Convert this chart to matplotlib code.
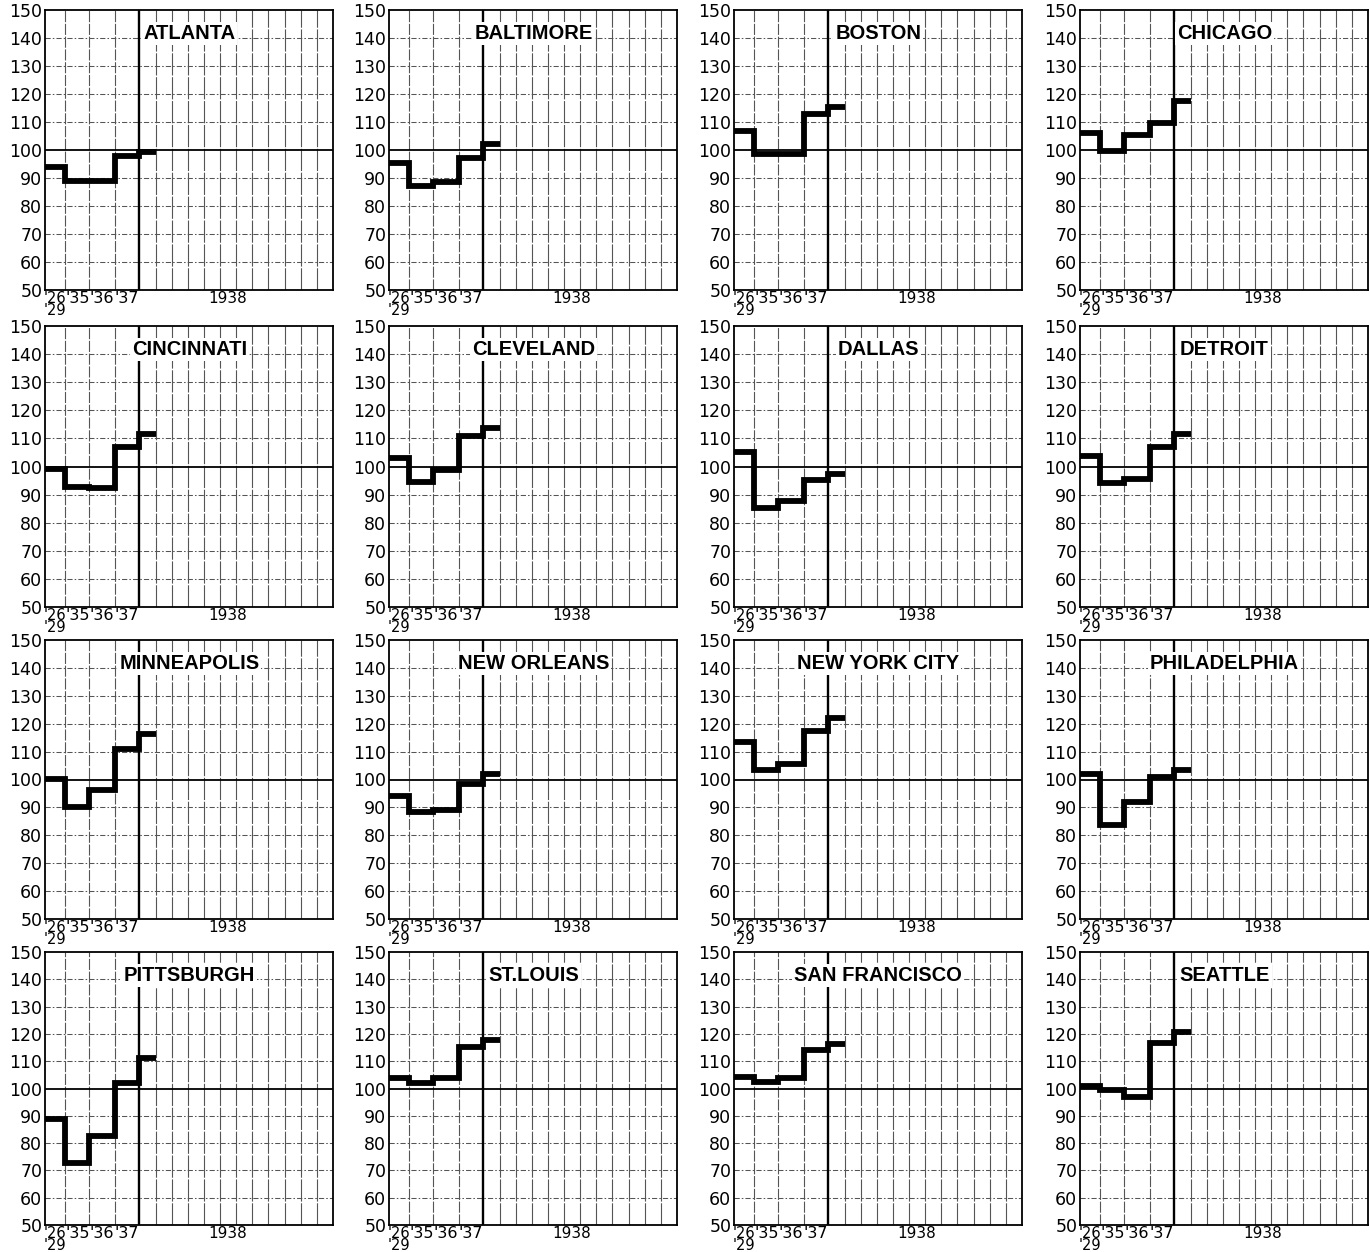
import matplotlib
matplotlib.use("Agg")
import matplotlib.pyplot as plt

# ---------------- data ----------------
cities = ["ATLANTA", "BALTIMORE", "BOSTON", "CHICAGO",
          "CINCINNATI", "CLEVELAND", "DALLAS", "DETROIT",
          "MINNEAPOLIS", "NEW ORLEANS", "NEW YORK CITY", "PHILADELPHIA",
          "PITTSBURGH", "ST.LOUIS", "SAN FRANCISCO", "SEATTLE"]

# periods: '26-'29 avg, 1935, 1936, 1937, Jan 1938
atlanta       = [94.1, 88.8, 88.8, 98.0, 99.4]
baltimore     = [95.3, 87.2, 88.6, 97.3, 102.3]
boston        = [106.8, 98.6, 98.6, 113.0, 115.3]
chicago       = [105.9, 99.8, 105.4, 109.5, 117.6]
cincinnati    = [99.2, 92.6, 92.3, 107.0, 111.6]
cleveland     = [103.1, 94.6, 98.6, 110.9, 113.8]
dallas        = [105.3, 85.2, 87.7, 95.2, 97.5]
detroit       = [103.6, 94.0, 95.7, 106.8, 111.7]
minneapolis   = [100.3, 90.0, 96.2, 111.1, 116.4]
new_orleans   = [94.2, 88.5, 88.9, 98.3, 101.9]
new_york_city = [113.4, 103.4, 105.5, 117.4, 121.9]
philadelphia  = [102.1, 83.6, 91.9, 100.8, 103.4]
pittsburgh    = [89.0, 72.6, 82.7, 102.0, 111.0]
st_louis      = [103.7, 102.0, 103.9, 115.3, 117.7]
san_francisco = [104.3, 102.3, 103.8, 114.0, 116.2]
seattle       = [101.0, 99.4, 97.0, 116.6, 120.7]

series = [atlanta, baltimore, boston, chicago,
          cincinnati, cleveland, dallas, detroit,
          minneapolis, new_orleans, new_york_city, philadelphia,
          pittsburgh, st_louis, san_francisco, seattle]

period_labels = ["'26\n'29", "'35", "'36", "'37"]
year_label = "1938"
y_ticks = [50, 60, 70, 80, 90, 100, 110, 120, 130, 140, 150]

# ---------------- layout / style ----------------
W, H = 1370, 1252
edges = [-5.85, -4.6, -3.1, -1.52, 0.0, 1.0]   # period boundaries (month units)
XMIN, XMAX = -5.85, 12.0
col_left = [45, 389, 734, 1080]
ax_w = 288
row_top = [10, 326, 640, 952]
row_bot = [290, 607, 919, 1225]

fig = plt.figure(figsize=(W / 100, H / 100), dpi=100)
fig.patch.set_facecolor("white")

grid_c = "#555555"

for i, (name, vals) in enumerate(zip(cities, series)):
    r, c = divmod(i, 4)
    left = col_left[c] / W
    bottom = 1 - row_bot[r] / H
    height = (row_bot[r] - row_top[r]) / H
    ax = fig.add_axes([left, bottom, ax_w / W, height])
    ax.set_xlim(XMIN, XMAX)
    ax.set_ylim(50, 150)

    # horizontal grid
    for yv in y_ticks[1:-1]:
        if yv == 100:
            ax.axhline(yv, color="black", lw=1.3, zorder=2)
        else:
            ax.axhline(yv, color=grid_c, lw=0.75,
                       ls=(0, (5, 2, 1.5, 2)), zorder=1)
    # vertical grid
    for xv in edges[1:4]:
        ax.axvline(xv, color=grid_c, lw=0.8, ls=(0, (10, 1.5)), zorder=1)
    for m in range(1, 12):
        ax.axvline(m, color=grid_c, lw=0.8, ls=(0, (20, 1.5)), zorder=1)
    ax.axvline(0, color="black", lw=1.7, zorder=2)

    # data step line
    ax.stairs(vals, edges, baseline=None, color="black", lw=4.2,
              zorder=4, joinstyle="miter")

    # title
    ax.text(3.1, 141.5, name, ha="center", va="center",
            fontsize=14.5, fontweight="bold",
            family=["Liberation Sans", "DejaVu Sans"],
            color="black", zorder=5,
            bbox=dict(facecolor="white", edgecolor="none", pad=1.5))

    # ticks
    ax.set_yticks(y_ticks)
    ax.set_yticklabels([str(v) for v in y_ticks],
                       family=["DejaVu Sans"], size=12.5)
    centers = [(edges[k] + edges[k + 1]) / 2 for k in range(4)] + [5.5]
    ax.set_xticks(centers)
    ax.set_xticklabels(period_labels + [year_label],
                       family=["DejaVu Sans"], size=11.5, linespacing=0.68)
    xt = ax.get_xticklabels()
    xt[0].set_fontsize(10.5)
    xt[-1].set_fontsize(11)
    ax.tick_params(axis="both", length=0, pad=2)
    ax.tick_params(axis="x", pad=1)

    for sp in ax.spines.values():
        sp.set_linewidth(1.3)
        sp.set_color("black")

fig.savefig("out.png", dpi=100, facecolor="white")
